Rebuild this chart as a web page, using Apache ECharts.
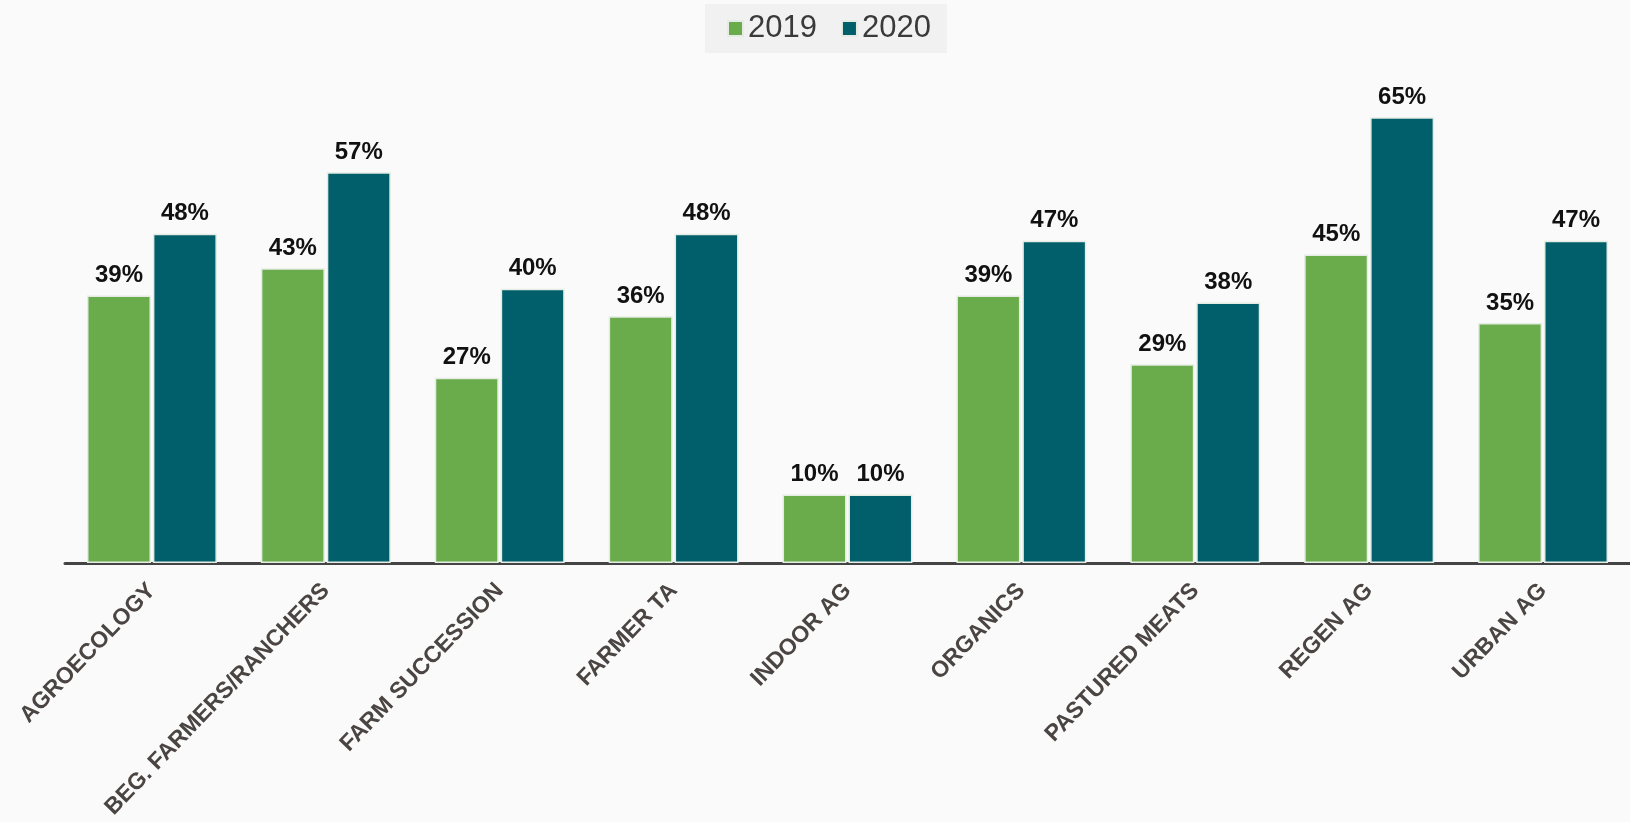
<!DOCTYPE html>
<html><head><meta charset="utf-8">
<script src="https://cdn.jsdelivr.net/npm/echarts@6/dist/echarts.min.js"></script>
<style>html,body{margin:0;padding:0;background:#fafafa}#c{width:1630px;height:822px}</style>
</head><body><div id="c"></div>
<script>
const categories = ['AGROECOLOGY','BEG. FARMERS/RANCHERS','FARM SUCCESSION','FARMER TA','INDOOR AG','ORGANICS','PASTURED MEATS','REGEN AG','URBAN AG'];
const values2019 = [39, 43, 27, 36, 10, 39, 29, 45, 35];
const values2020 = [48, 57, 40, 48, 10, 47, 38, 65, 47];
const seriesNames = ['2019', '2020'];

const chart = echarts.init(document.getElementById('c'));
const labelStyle = {show:true, position:'top', distance:8, formatter:'{c}%', fontFamily:'Liberation Sans, Arial', fontWeight:'bold', fontSize:24, color:'#111'};
chart.setOption({
  backgroundColor:'#fafafa',
  animation:false,
  legend:{
    data:seriesNames, left:705, top:4, padding:[9,16,9,22],
    backgroundColor:'#f1f1f1', itemWidth:15, itemHeight:15, itemGap:24,
    icon:'rect',
    textStyle:{fontFamily:'Liberation Sans, Arial', fontSize:31, color:'#3a3a3a'}
  },
  grid:{left:65, right:0, top:83, bottom:259, containLabel:false},
  xAxis:{
    type:'category', data:categories,
    axisLine:{lineStyle:{color:'#444', width:3}},
    axisTick:{show:false},
    axisLabel:{interval:0, rotate:46, margin:24, fontFamily:'Liberation Sans, Arial', fontWeight:'bold', fontSize:23, color:'#4a4542'}
  },
  yAxis:{type:'value', min:0, max:70, show:false, splitLine:{show:false}},
  series:[
    {name:seriesNames[0], type:'bar', data:values2019, barWidth:64, barGap:'3%',
     itemStyle:{color:'#6aac4b', borderColor:'#e4ece4', borderWidth:1.5}, label:labelStyle},
    {name:seriesNames[1], type:'bar', data:values2020, barWidth:64,
     itemStyle:{color:'#005f6b', borderColor:'#e4ece4', borderWidth:1.5}, label:labelStyle}
  ]
});
</script></body></html>
